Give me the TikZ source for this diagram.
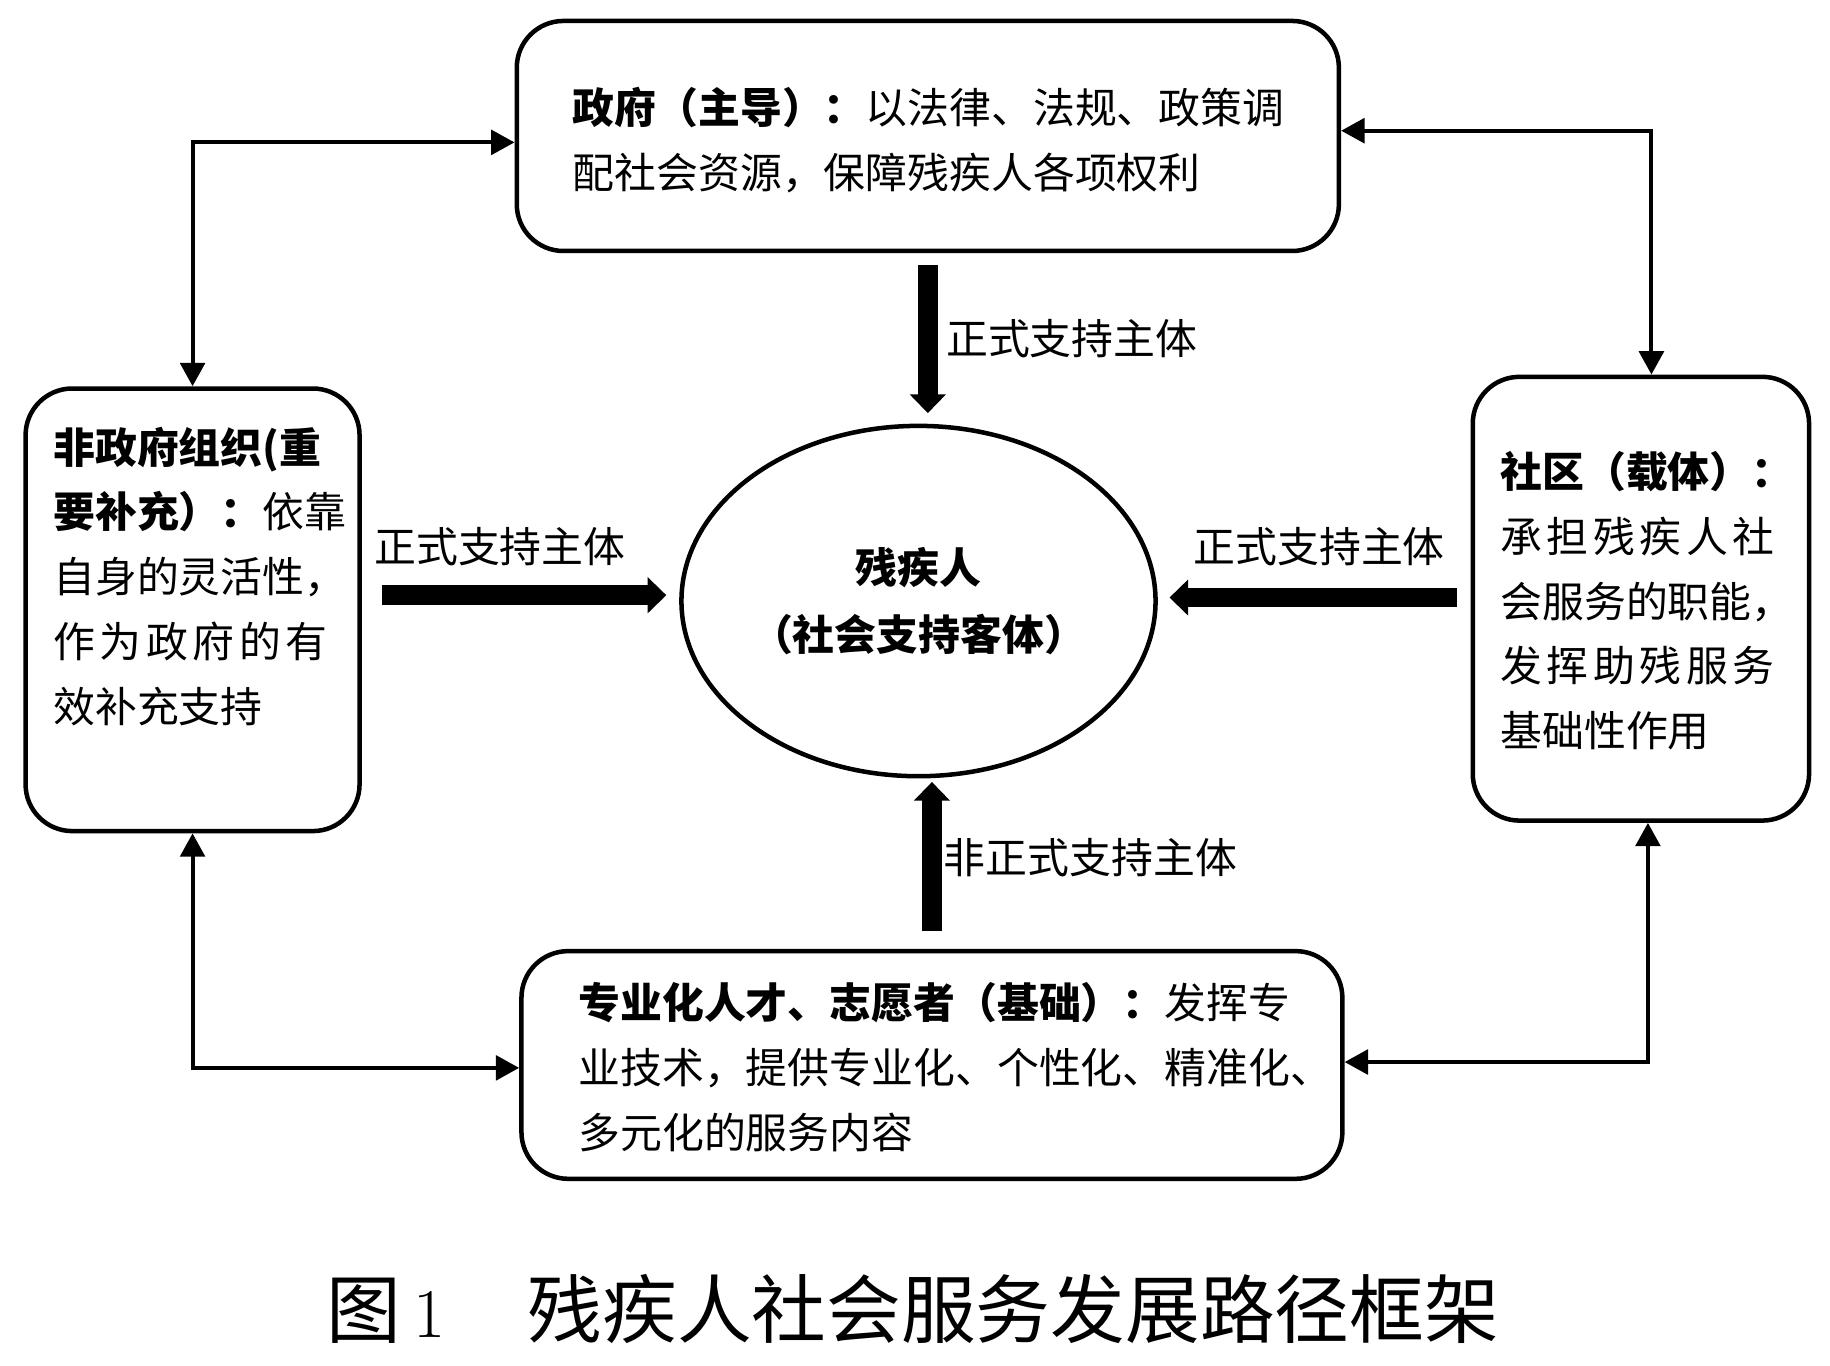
\documentclass[tikz,border=0pt]{standalone}
\usepackage{fontspec}
\usepackage{tikz}
\usetikzlibrary{arrows.meta,shapes.geometric}
\newfontfamily\cjk{Noto Sans CJK SC}
\newfontfamily\cjkwide[LetterSpace=11]{Noto Sans CJK SC}
\tikzset{
  box/.style={draw, line width=1.1pt, rounded corners=0.4cm, inner sep=0pt},
  body/.style={anchor=north west, inner sep=0pt, align=left, font=\cjk\fontsize{10.2}{15.8}\selectfont},
  tag/.style={anchor=west, inner sep=0pt, font=\cjk\fontsize{10.2}{12}\selectfont},
  fat/.style={line width=4.8pt, -{Triangle[width=0.30cm,length=0.16cm]}},
  thin/.style={line width=1pt, {Triangle[width=0.21cm,length=0.20cm]}-{Triangle[width=0.21cm,length=0.20cm]}},
}

\begin{document}
\begin{tikzpicture}[x=0.01cm, y=-0.01cm]
  \useasboundingbox (0,0) rectangle (1568,1170);

  % actors round the centre
  \node[box, minimum width=7.04cm, minimum height=1.97cm] (gov) at (795,116.5) {};   % government
  \node[box, minimum width=2.86cm, minimum height=3.79cm] (ngo) at (165,522.5) {};   % NGOs
  \node[box, minimum width=2.88cm, minimum height=3.80cm] (com) at (1406,513) {};    % community
  \node[box, minimum width=7.03cm, minimum height=1.95cm] (pro) at (798.5,912.5) {}; % talents, volunteers
  \node[draw, ellipse, line width=1.1pt, minimum width=4.06cm, minimum height=3.00cm,
        inner sep=0pt, align=center, font=\cjk\bfseries\fontsize{10.2}{16.5}\selectfont]
        (pwd) at (787,515) {残疾人\\（社会支持客体）};

  \node[body] (govtxt) at (490,74) {\textbf{政府（主导）：}以法律、法规、政策调\\配社会资源，保障残疾人各项权利};
  \node[body] (ngotxt) at (45,365) {\textbf{非政府组织(重}\\\textbf{要补充）：}依靠\\自身的灵活性，\\{\cjkwide 作为政府的有}\\效补充支持};
  \node[body] (comtxt) at (1285,386) {\textbf{社区（载体）：}\\{\cjkwide 承担残疾人社}\\会服务的职能，\\{\cjkwide 发挥助残服务}\\基础性作用};
  \node[body] (protxt) at (495,841) {\textbf{专业化人才、志愿者（基础）：}发挥专\\业技术，提供专业化、个性化、精准化、\\多元化的服务内容};

  \node[tag] (lab1) at (810,290) {正式支持主体};
  \node[tag] (lab2) at (320,468) {正式支持主体};
  \node[tag] (lab3) at (1022,468) {正式支持主体};
  \node[tag] (lab4) at (808,735) {非正式支持主体};

  % support arrows into the centre
  \coordinate (lin) at (ngo.east |- pwd.west);
  \coordinate (rin) at (com.west |- pwd.east);
  \draw[fat, shorten <=0.1cm, shorten >=0.09cm] (gov.south) -- (gov.south |- pwd.north);
  \draw[fat, shorten <=0.15cm, shorten >=0.03cm] (pro.north) -- (pro.north |- pwd.south);
  \draw[fat] ([xshift=0.17cm, yshift=0.05cm]lin) -- ([xshift=-0.11cm, yshift=0.05cm]pwd.west);
  \draw[fat] ([xshift=-0.12cm, yshift=0.03cm]rin) -- ([xshift=0.10cm, yshift=0.03cm]pwd.east);

  % links between the actors
  \draw[thin] (ngo.north) |- ([yshift=-0.055cm]gov.west);
  \draw[thin] ([yshift=0.045cm]gov.east) -| ([xshift=0.09cm]com.north);
  \draw[thin] (ngo.south) |- ([yshift=-0.025cm]pro.west);
  \draw[thin] ([xshift=0.06cm]com.south) |- ([yshift=0.025cm]pro.east);

  \node[anchor=west, inner sep=0pt, font=\cjk\fontsize{18.2}{20}\selectfont] (cap) at (279,1122)
    {图\hspace{0.11cm}{\rmfamily\fontsize{17}{17}\selectfont 1}\hspace{0.70cm}残疾人社会服务发展路径框架};
\end{tikzpicture}
\end{document}
